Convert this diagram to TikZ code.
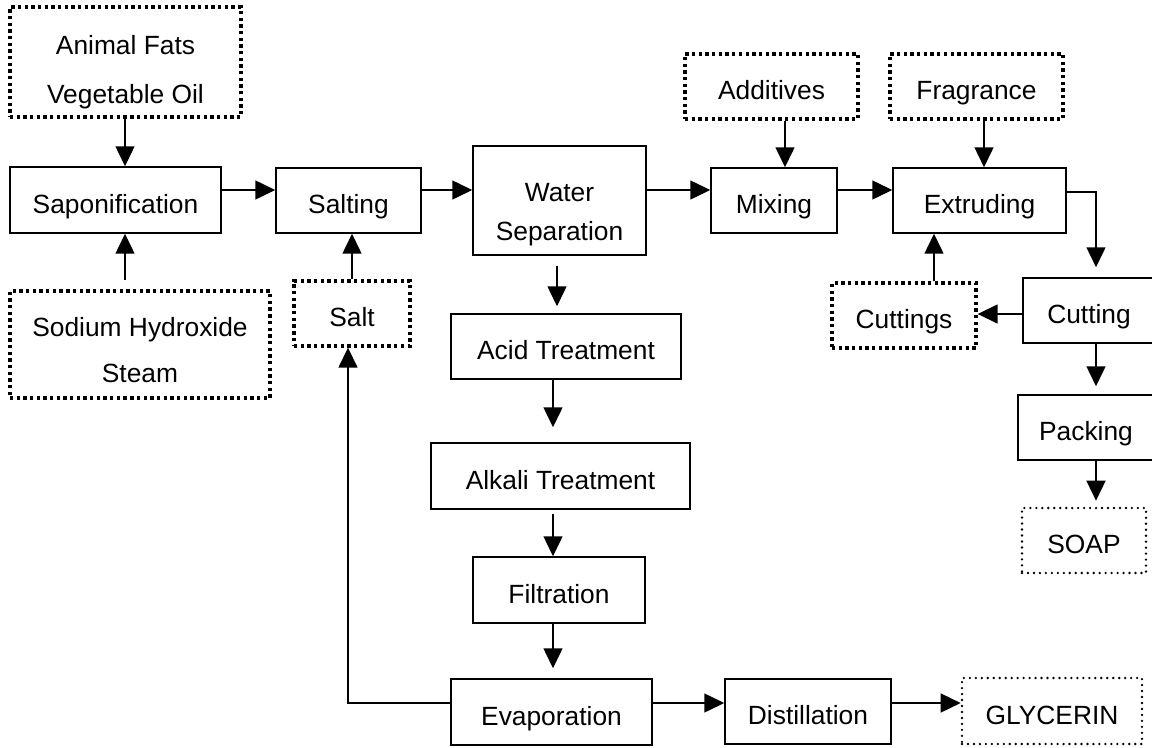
\documentclass[tikz,border=0pt]{standalone}
\usepackage{fontspec}
\setmainfont{Liberation Sans}
\usetikzlibrary{arrows.meta}

\begin{document}
\begin{tikzpicture}[x=0.02cm,y=-0.02cm,every node/.style={inner sep=0pt,align=center,
    font=\fontsize{15}{18}\selectfont,text height=14.8pt,text depth=0pt},
  wh/.style 2 args={minimum width=#1*0.02cm,minimum height=#2*0.02cm},
  lines/.style 2 args={font=\fontsize{15}{#1}\selectfont,text height=#2},
  proc/.style={draw,line width=0.85pt},
  feed/.style={draw,line width=1.9pt,dash pattern=on 1.9pt off 1.9pt},
  prod/.style={draw,line width=1.5pt,line cap=round,dash pattern=on 0pt off 3.4pt},
  arr/.style={line width=0.85pt,-{Triangle[length=0.4cm,width=0.38cm]}}]

  \useasboundingbox (0,0) rectangle (1152,747);

  % soap line
  \node[feed,wh={231}{110},lines={27.4pt}{46.8pt}] (fats) at (125.5,62) {Animal Fats\\Vegetable Oil};
  \node[proc,wh={211}{66}] (sapon) at (115.5,200) {Saponification};
  \node[feed,wh={260}{107},lines={26.2pt}{43.8pt}] (soda) at (140,344.5) {Sodium Hydroxide\\Steam};
  \node[proc,wh={145}{65}] (salting) at (348.5,200.5) {Salting};
  \node[feed,wh={116}{65}] (salt) at (352,313.5) {Salt};
  \node[proc,wh={173}{109},lines={22.2pt}{45pt}] (water) at (559.5,200.5) {Water\\Separation};
  \node[feed,wh={173}{65}] (addit) at (771.5,86.5) {Additives};
  \node[proc,wh={126}{65}] (mixing) at (774,200.5) {Mixing};
  \node[feed,wh={173}{65}] (fragr) at (976.5,86.5) {Fragrance};
  \node[proc,wh={173}{65}] (extrud) at (979.5,200.5) {Extruding};
  \node[feed,wh={144}{65}] (cuttings) at (904,315.5) {Cuttings};
  \node[proc,wh={132}{65}] (cutting) at (1089,310.5) {Cutting};
  \node[proc,wh={136}{65}] (packing) at (1086,427.5) {Packing};
  \node[prod,wh={124}{65}] (soap) at (1084,540.5) {SOAP};

  % glycerin line
  \node[proc,wh={230}{65}] (acid) at (566,346.5) {Acid Treatment};
  \node[proc,wh={259}{66}] (alkali) at (560.5,476) {Alkali Treatment};
  \node[proc,wh={172}{66}] (filt) at (559,590) {Filtration};
  \node[proc,wh={201}{66}] (evap) at (551.5,712) {Evaporation};
  \node[proc,wh={166}{65}] (dist) at (808,711.5) {Distillation};
  \node[prod,wh={180}{66}] (glyc) at (1052,711) {GLYCERIN};

  %arrows
  \draw[arr] (fats.south -| 125,0) -- (sapon.north -| 125,0);
  \draw[arr,shorten <=0.18cm] (soda.north -| 125,0) -- (sapon.south -| 125,0);
  \draw[arr] (sapon.east |- 0,190) -- (salting.west |- 0,190);
  \draw[arr] (salt.north -| 352,0) -- (salting.south -| 352,0);
  \draw[arr] (salting.east |- 0,190) -- (water.west |- 0,190);
  \draw[arr] (water.east |- 0,190) -- (mixing.west |- 0,190);
  \draw[arr] (addit.south -| 785,0) -- (mixing.north -| 785,0);
  \draw[arr] (mixing.east |- 0,190) -- (extrud.west |- 0,190);
  \draw[arr] (fragr.south -| 984,0) -- (extrud.north -| 984,0);
  \draw[arr,shorten >=0.2cm] (extrud.east |- 0,192) -| (cutting.north -| 1096,0);
  \draw[arr] (cutting.west |- 0,314) -- (cuttings.east |- 0,314);
  \draw[arr] (cuttings.north -| 934,0) -- (extrud.south -| 934,0);
  \draw[arr,shorten >=0.16cm] (cutting.south -| 1096,0) -- (packing.north -| 1096,0);
  \draw[arr,shorten >=0.12cm] (packing.south -| 1096,0) -- (soap.north -| 1096,0);

  \draw[arr,shorten <=0.2cm,shorten >=0.14cm] (water.south -| 557,0) -- (acid.north -| 557,0);
  \draw[arr,shorten >=0.3cm] (acid.south -| 553,0) -- (alkali.north -| 553,0);
  \draw[arr,shorten <=0.08cm] (alkali.south -| 553,0) -- (filt.north -| 553,0);
  \draw[arr,shorten >=0.2cm] (filt.south -| 553,0) -- (evap.north -| 553,0);
  \draw[arr] (evap.west |- 0,703) -| (salt.south -| 348,0);
  \draw[arr] (evap.east |- 0,703) -- (dist.west |- 0,703);
  \draw[arr] (dist.east |- 0,703) -- (glyc.west |- 0,703);

\end{tikzpicture}
\end{document}
